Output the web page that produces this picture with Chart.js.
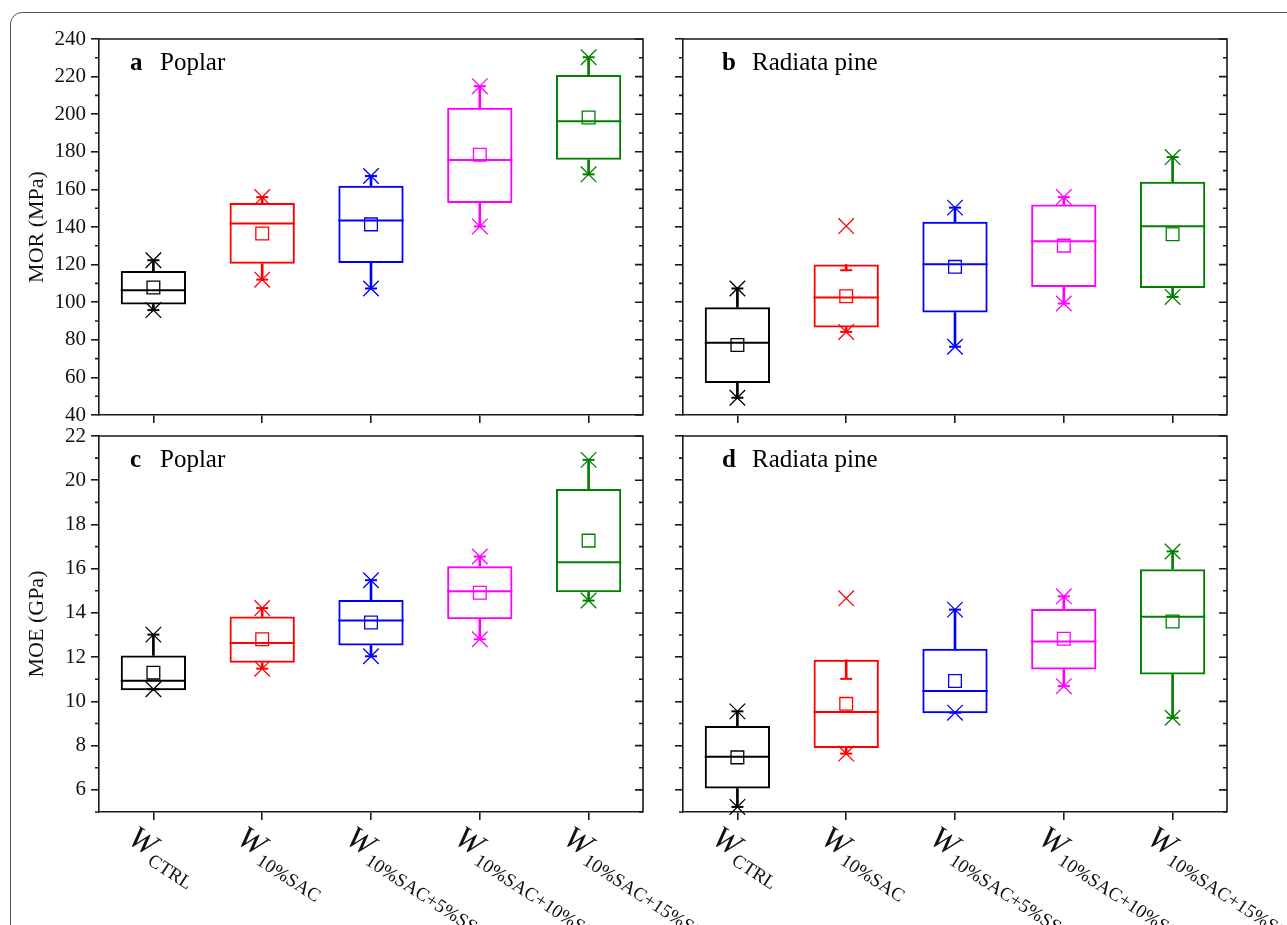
<!DOCTYPE html>
<html>
<head>
<meta charset="utf-8">
<script src="https://cdn.jsdelivr.net/npm/chart.js@4.4.0/dist/chart.umd.min.js"></script>
<style>
  html, body { margin: 0; padding: 0; background: #fff; }
  #fig { position: relative; width: 1287px; height: 925px; overflow: hidden; }
  #frame { position: absolute; left: 10px; top: 12px; width: 1320px; height: 960px;
           border: 1.5px solid #555; border-radius: 12px; }
  canvas { position: absolute; left: 0; top: 0; pointer-events: none; }
</style>
</head>
<body>
<div id="fig">
  <div id="frame"></div>
  <canvas id="chartA" width="1287" height="925"></canvas>
  <canvas id="chartB" width="1287" height="925"></canvas>
  <canvas id="chartC" width="1287" height="925"></canvas>
  <canvas id="chartD" width="1287" height="925"></canvas>
</div>
<script>
// treatments (x axis subscripts, prefixed with an italic W)
var categories = ["CTRL", "10%SAC", "10%SAC+5%SS", "10%SAC+10%SS", "10%SAC+15%SS"];
var boxColors = ["#000000", "#ff0000", "#0000ff", "#ff00ff", "#008000"];

var morTicks = [40, 60, 80, 100, 120, 140, 160, 180, 200, 220, 240];
var moeTicks = [6, 8, 10, 12, 14, 16, 18, 20, 22];

// a - MOR, poplar
var morPoplarLow    = [95.8, 112.0, 107.3, 140.3, 168.0];
var morPoplarQ1     = [98.8, 120.4, 120.9, 152.7, 175.8];
var morPoplarMedian = [106.4, 141.9, 143.4, 175.6, 196.3];
var morPoplarQ3     = [116.6, 152.7, 162.0, 203.4, 220.9];
var morPoplarHigh   = [122.3, 155.9, 167.1, 214.9, 230.3];
var morPoplarMean   = [107.8, 136.5, 141.4, 178.4, 198.2];

// b - MOR, radiata pine
var morPineLow    = [49.2, 84.2, 76.3, 99.3, 102.8];
var morPineQ1     = [57.0, 86.5, 94.5, 108.1, 107.6];
var morPineMedian = [78.4, 102.5, 120.2, 132.4, 140.4];
var morPineQ3     = [97.3, 120.0, 142.8, 152.0, 164.1];
var morPineHigh   = [107.3, 117.0, 150.3, 155.9, 177.2];
var morPineMax    = [107.3, 140.5, 150.3, 155.9, 177.2];
var morPineMean   = [77.2, 103.2, 118.8, 130.1, 136.1];

// c - MOE, poplar
var moePoplarLow    = [10.55, 11.48, 12.04, 12.81, 14.56];
var moePoplarQ1     = [10.5, 11.75, 12.53, 13.72, 14.94];
var moePoplarMedian = [10.93, 12.64, 13.66, 14.98, 16.29];
var moePoplarQ3     = [12.08, 13.84, 14.59, 16.11, 19.6];
var moePoplarHigh   = [13.02, 14.22, 15.48, 16.55, 20.92];
var moePoplarMean   = [11.3, 12.81, 13.57, 14.91, 17.27];

// d - MOE, radiata pine
var moePineLow    = [5.23, 7.64, 9.49, 10.69, 9.26];
var moePineQ1     = [6.06, 7.89, 9.47, 11.44, 11.22];
var moePineMedian = [7.5, 9.52, 10.47, 12.71, 13.83];
var moePineQ3     = [8.89, 11.88, 12.38, 14.18, 15.98];
var moePineHigh   = [9.55, 11.02, 14.15, 14.75, 16.78];
var moePineMax    = [9.55, 14.66, 14.15, 14.75, 16.78];
var moePineMean   = [7.47, 9.89, 10.92, 12.83, 13.61];

var axisColor = "#1a1a1a";
var serif = '"Liberation Serif", "Times New Roman", serif';

function decorPlugin(cfg) {
    return {
        id: "decor" + cfg.letter,
        afterDraw: function (chart) {
            var ctx = chart.ctx;
            var a = chart.chartArea;
            var y = chart.scales.y;
            var x = chart.scales.x;
            var t = cfg.ticks;
            var step = t[1] - t[0];
            ctx.save();
            ctx.strokeStyle = axisColor;
            ctx.lineWidth = 1.6;
            ctx.beginPath();
            ctx.moveTo(a.left, a.top);
            ctx.lineTo(a.right, a.top);
            ctx.lineTo(a.right, a.bottom);
            ctx.stroke();

            // right major ticks (inward), minor ticks both sides
            ctx.beginPath();
            var i, py;
            for (i = 0; i < t.length; i++) {
                py = y.getPixelForValue(t[i]);
                ctx.moveTo(a.right, py);
                ctx.lineTo(a.right - 8, py);
            }
            var minors = [];
            for (i = 0; i < t.length; i++) minors.push(t[i] - step / 2);
            minors.forEach(function (m) {
                if (m < cfg.min || m > cfg.max) return;
                var p = y.getPixelForValue(m);
                ctx.moveTo(a.left, p);
                ctx.lineTo(a.left - 4, p);
                ctx.moveTo(a.right, p);
                ctx.lineTo(a.right - 4, p);
            });
            ctx.stroke();

            // panel label
            ctx.fillStyle = "#000";
            ctx.textBaseline = "alphabetic";
            ctx.textAlign = "left";
            ctx.font = "bold 25px " + serif;
            ctx.fillText(cfg.letter, a.left + cfg.labelDx, a.top + 31);
            ctx.font = "25px " + serif;
            ctx.fillText(cfg.species, a.left + cfg.labelDx + 30, a.top + 31);

            // x labels: italic W with subscript, slanted
            if (cfg.xLabels) {
                ctx.fillStyle = "#111";
                categories.forEach(function (c, k) {
                    var px = x.getPixelForValue(k);
                    ctx.save();
                    ctx.translate(px - 14, a.bottom + 10);
                    ctx.rotate(33 * Math.PI / 180);
                    ctx.font = "italic 32px " + serif;
                    ctx.fillText("W", 0, 24);
                    var w = ctx.measureText("W").width;
                    ctx.font = "19px " + serif;
                    ctx.fillText(c, w + 2, 31);
                    ctx.restore();
                });
            }
            ctx.restore();
        }
    };
}

function makePanel(id, cfg) {
    var pairs = function (lo, hi) {
        return lo.map(function (v, i) { return [v, hi[i]]; });
    };
    var halfBox = function (ctx) {
        return ctx.chart.scales.x.width / categories.length * 0.3;
    };
    var marker = function (data, style, radius, width) {
        return {
            type: "line", data: data, showLine: false, clip: false,
            pointStyle: style, pointRadius: radius, pointHoverRadius: radius,
            pointBorderColor: boxColors, pointBackgroundColor: "rgba(0,0,0,0)",
            pointBorderWidth: width, borderColor: boxColors
        };
    };
    var whisker = function (data) {
        return {
            type: "bar", data: data, backgroundColor: boxColors, borderWidth: 0,
            barThickness: 2, grouped: false
        };
    };
    var datasets = [
        marker(cfg.median, "line", halfBox, 2),
        marker(cfg.mean, "rect", 9, 1.3),
        marker(cfg.high, "line", 6, 2),
        marker(cfg.low, "line", 6, 2),
        marker(cfg.maxMark, "crossRot", 11, 1.3),
        marker(cfg.low, "crossRot", 11, 1.3),
        {
            type: "bar", data: pairs(cfg.q1, cfg.q3), backgroundColor: "rgba(0,0,0,0)",
            borderColor: boxColors, borderWidth: 2, borderSkipped: false,
            barPercentage: 0.6, categoryPercentage: 1, grouped: false
        },
        whisker(pairs(cfg.q3, cfg.high)),
        whisker(pairs(cfg.low, cfg.q1))
    ];

    new Chart(document.getElementById(id), {
        type: "bar",
        data: { labels: categories, datasets: datasets },
        options: {
            responsive: false,
            animation: false,
            devicePixelRatio: 1,
            events: [],
            layout: { padding: cfg.padding },
            plugins: { legend: { display: false }, tooltip: { enabled: false } },
            scales: {
                x: {
                    type: "category",
                    offset: true,
                    grid: {
                        display: true, drawOnChartArea: false, drawTicks: true, tickLength: 8,
                        offset: false, color: axisColor, lineWidth: 1.6
                    },
                    border: { display: true, color: axisColor, width: 1.6 },
                    ticks: { display: false },
                    afterFit: function (s) { s.height = 10; }
                },
                y: {
                    type: "linear",
                    min: cfg.min,
                    max: cfg.max,
                    afterBuildTicks: function (s) {
                        s.ticks = cfg.ticks.map(function (v) { return { value: v }; });
                    },
                    grid: {
                        display: true, drawOnChartArea: false, drawTicks: true, tickLength: 8,
                        color: axisColor, lineWidth: 1.6
                    },
                    border: { display: true, color: axisColor, width: 1.6 },
                    ticks: {
                        display: cfg.yLabels, padding: 5, color: "#111",
                        font: { family: serif, size: 21 }
                    },
                    title: {
                        display: !!cfg.yTitle, text: cfg.yTitle || "", color: "#111",
                        font: { family: serif, size: 22 }, padding: { top: 4, bottom: 0 }
                    },
                    afterFit: function (s) { s.width = 79; }
                }
            }
        },
        plugins: [decorPlugin(cfg)]
    });
}

makePanel("chartA", {
    letter: "a", species: "Poplar", labelDx: 31, yTitle: "MOR (MPa)", yLabels: true, xLabels: false,
    min: 40, max: 240, ticks: morTicks,
    padding: { left: 20, top: 39, right: 644, bottom: 500 },
    low: morPoplarLow, q1: morPoplarQ1, median: morPoplarMedian, q3: morPoplarQ3,
    high: morPoplarHigh, maxMark: morPoplarHigh, mean: morPoplarMean
});

makePanel("chartB", {
    letter: "b", species: "Radiata pine", labelDx: 39, yTitle: "", yLabels: false, xLabels: false,
    min: 40, max: 240, ticks: morTicks,
    padding: { left: 604, top: 39, right: 60, bottom: 500 },
    low: morPineLow, q1: morPineQ1, median: morPineMedian, q3: morPineQ3,
    high: morPineHigh, maxMark: morPineMax, mean: morPineMean
});

makePanel("chartC", {
    letter: "c", species: "Poplar", labelDx: 31, yTitle: "MOE (GPa)", yLabels: true, xLabels: true,
    min: 5, max: 22, ticks: moeTicks,
    padding: { left: 20, top: 436, right: 644, bottom: 103 },
    low: moePoplarLow, q1: moePoplarQ1, median: moePoplarMedian, q3: moePoplarQ3,
    high: moePoplarHigh, maxMark: moePoplarHigh, mean: moePoplarMean
});

makePanel("chartD", {
    letter: "d", species: "Radiata pine", labelDx: 39, yTitle: "", yLabels: false, xLabels: true,
    min: 5, max: 22, ticks: moeTicks,
    padding: { left: 604, top: 436, right: 60, bottom: 103 },
    low: moePineLow, q1: moePineQ1, median: moePineMedian, q3: moePineQ3,
    high: moePineHigh, maxMark: moePineMax, mean: moePineMean
});
</script>
</body>
</html>
